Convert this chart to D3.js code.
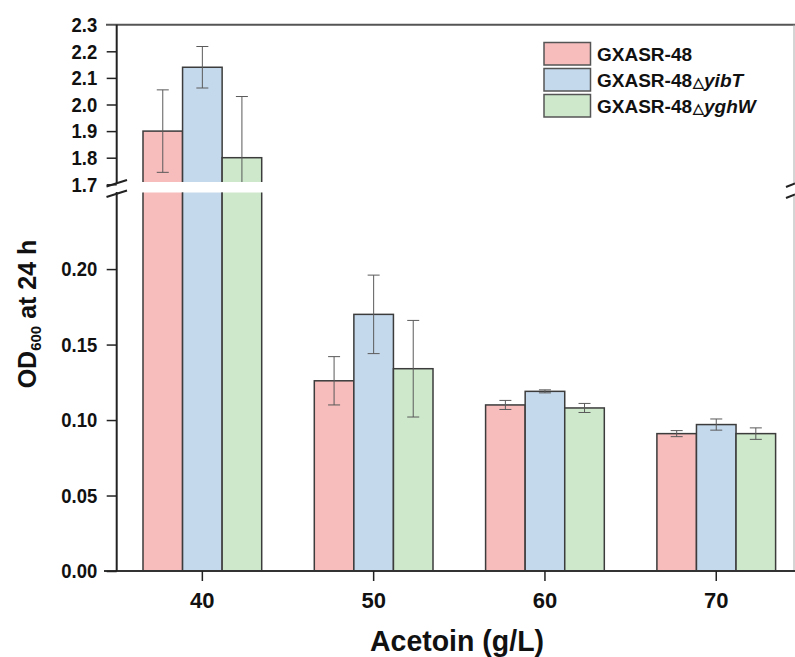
<!DOCTYPE html>
<html><head><meta charset="utf-8">
<script src="https://cdn.jsdelivr.net/npm/d3@7"></script>
<style>
html,body{margin:0;padding:0;background:#fff;}
svg{display:block;font-family:"Liberation Sans",Arial,sans-serif;}
</style></head>
<body>
<svg id="chart" width="795" height="657"></svg>
<script>
// ---- data ----
const categories = ["40", "50", "60", "70"];
const seriesNames = ["GXASR-48", "GXASR-48\u25B3yibT", "GXASR-48\u25B3yghW"];
const seriesGenes = ["", "yibT", "yghW"];
const valuesWT = [1.90, 0.126, 0.110, 0.091];
const valuesYibT = [2.14, 0.170, 0.119, 0.097];
const valuesYghW = [1.80, 0.134, 0.108, 0.091];
const errWT = [0.155, 0.016, 0.003, 0.002];
const errYibT = [0.078, 0.026, 0.001, 0.0037];
const errYghW = [0.23, 0.032, 0.003, 0.0038];
const upperTicks = [1.7, 1.8, 1.9, 2.0, 2.1, 2.2, 2.3];
const lowerTicks = [0.00, 0.05, 0.10, 0.15, 0.20];
const colors = ["#f7bcbc", "#c5d9ec", "#cde8cb"];

const series = [
  {name: seriesNames[0], gene: seriesGenes[0], values: valuesWT, err: errWT, color: colors[0]},
  {name: seriesNames[1], gene: seriesGenes[1], values: valuesYibT, err: errYibT, color: colors[1]},
  {name: seriesNames[2], gene: seriesGenes[2], values: valuesYghW, err: errYghW, color: colors[2]}
];

// ---- layout ----
const axisX = 116.7, rightX = 794, baseY = 571, topY = 24.7;
const upperBottom = 184.3, lowerTop = 193.6;
const gapTop = 182, gapBottom = 192.5;

const svg = d3.select("#chart");

const x = d3.scaleBand().domain(categories).range([axisX, axisX + 4 * 171.3])
  .paddingInner(0.307).paddingOuter(0.1535);
const xs = d3.scaleBand().domain(d3.range(series.length)).range([0, x.bandwidth()]);
const yU = d3.scaleLinear().domain([1.7, 2.3]).range([upperBottom, topY]);
const yL = d3.scaleLinear().domain([0, 0.25]).range([baseY, lowerTop]);

const defs = svg.append("defs");
defs.append("clipPath").attr("id", "clipU").append("rect")
  .attr("x", 0).attr("y", 0).attr("width", 795).attr("height", gapTop);
defs.append("clipPath").attr("id", "clipL").append("rect")
  .attr("x", 0).attr("y", gapBottom).attr("width", 795).attr("height", baseY - gapBottom + 20);

const gU = svg.append("g").attr("clip-path", "url(#clipU)");
const gL = svg.append("g").attr("clip-path", "url(#clipL)");

const rows = [];
series.forEach((s, si) => {
  categories.forEach((c, ci) => {
    rows.push({si, c, v: s.values[ci], e: s.err[ci], color: s.color});
  });
});

// bars
rows.forEach(d => {
  const bx = x(d.c) + xs(d.si), bw = xs.bandwidth();
  if (d.v > 0.25) {
    gU.append("rect").attr("x", bx).attr("y", yU(d.v)).attr("width", bw)
      .attr("height", upperBottom + 30 - yU(d.v))
      .attr("fill", d.color).attr("stroke", "#3c3c3c").attr("stroke-width", 1.5);
    gL.append("rect").attr("x", bx).attr("y", lowerTop - 30).attr("width", bw)
      .attr("height", yL(0) - lowerTop + 30)
      .attr("fill", d.color).attr("stroke", "#3c3c3c").attr("stroke-width", 1.5);
  } else {
    gL.append("rect").attr("x", bx).attr("y", yL(d.v)).attr("width", bw)
      .attr("height", yL(0) - yL(d.v))
      .attr("fill", d.color).attr("stroke", "#3c3c3c").attr("stroke-width", 1.5);
  }
});

// error bars
rows.forEach(d => {
  const cx = x(d.c) + xs(d.si) + xs.bandwidth() / 2;
  const g = d.v > 0.25 ? gU : gL;
  const sc = d.v > 0.25 ? yU : yL;
  const y1 = sc(d.v + d.e), y0 = sc(d.v - d.e);
  g.append("line").attr("x1", cx).attr("x2", cx).attr("y1", y1).attr("y2", y0)
    .attr("stroke", "#5a5a5a").attr("stroke-width", 1);
  [y1, y0].forEach(yy => g.append("line").attr("x1", cx - 6).attr("x2", cx + 6)
    .attr("y1", yy).attr("y2", yy).attr("stroke", "#5a5a5a").attr("stroke-width", 1));
});

// frame lines
svg.append("line").attr("x1", 106).attr("x2", rightX + 1).attr("y1", topY).attr("y2", topY)
  .attr("stroke", "#555").attr("stroke-width", 2);
svg.append("line").attr("x1", rightX).attr("x2", rightX).attr("y1", topY).attr("y2", 183)
  .attr("stroke", "#aaa").attr("stroke-width", 1);
svg.append("line").attr("x1", rightX).attr("x2", rightX).attr("y1", 196).attr("y2", baseY)
  .attr("stroke", "#aaa").attr("stroke-width", 1);
svg.append("line").attr("x1", 104).attr("x2", 795).attr("y1", baseY).attr("y2", baseY)
  .attr("stroke", "#333").attr("stroke-width", 2);
// left axis (broken)
svg.append("line").attr("x1", axisX).attr("x2", axisX).attr("y1", topY).attr("y2", 183)
  .attr("stroke", "#222").attr("stroke-width", 2);
svg.append("line").attr("x1", axisX).attr("x2", axisX).attr("y1", 192).attr("y2", baseY)
  .attr("stroke", "#222").attr("stroke-width", 2);
// break marks
[[106.5, 186.5, 127, 180], [106.5, 197, 127, 190.5]].forEach(p =>
  svg.append("line").attr("x1", p[0]).attr("y1", p[1]).attr("x2", p[2]).attr("y2", p[3])
    .attr("stroke", "#222").attr("stroke-width", 2));
[[786, 187, 795, 183.5], [786, 198, 795, 194.5]].forEach(p =>
  svg.append("line").attr("x1", p[0]).attr("y1", p[1]).attr("x2", p[2]).attr("y2", p[3])
    .attr("stroke", "#222").attr("stroke-width", 2));

// axes ticks
const sx = 0.88;
function styleAxis(g) {
  g.select(".domain").remove();
  g.selectAll(".tick line").attr("stroke", "#222").attr("stroke-width", 1.5);
  g.selectAll(".tick text").attr("fill", "#111").attr("font-weight", "bold")
    .attr("font-family", "'Liberation Sans', Arial, sans-serif");
}
function squeezeY(g) {
  g.selectAll(".tick text").attr("font-size", 21)
    .attr("x", -19.5 / sx).attr("transform", `scale(${sx},1)`);
}
const axU = svg.append("g").attr("transform", `translate(${axisX},0)`)
  .call(d3.axisLeft(yU).tickValues(upperTicks).tickSize(10).tickPadding(9).tickFormat(d3.format(".1f")));
styleAxis(axU); squeezeY(axU);
axU.selectAll(".tick").filter(d => d === 2.3).select("line").remove();
const axL = svg.append("g").attr("transform", `translate(${axisX},0)`)
  .call(d3.axisLeft(yL).tickValues(lowerTicks).tickSize(10).tickPadding(9).tickFormat(d3.format(".2f")));
styleAxis(axL); squeezeY(axL);
const axB = svg.append("g").attr("transform", `translate(0,${baseY})`)
  .call(d3.axisBottom(x).tickSize(10).tickPadding(11));
styleAxis(axB);
axB.selectAll(".tick text").attr("font-size", 22);

// axis titles
svg.append("text").attr("transform", "translate(457,651) scale(0.95,1)").attr("text-anchor", "middle")
  .attr("font-size", 30).attr("font-weight", "bold").attr("fill", "#111").text("Acetoin (g/L)");
const yt = svg.append("text").attr("transform", "translate(36,314) rotate(-90)")
  .attr("text-anchor", "middle").attr("font-size", 25).attr("font-weight", "bold").attr("fill", "#111");
yt.append("tspan").text("OD");
yt.append("tspan").attr("font-size", 15).attr("dy", 5).text("600");
yt.append("tspan").attr("dy", -5).text(" at 24 h");

// legend
const lg = svg.append("g").attr("transform", "translate(544,42.5)");
series.forEach((s, i) => {
  const row = lg.append("g").attr("transform", `translate(0,${i * 26})`);
  row.append("rect").attr("x", 0).attr("y", 0).attr("width", 46.5).attr("height", 22.5)
    .attr("fill", s.color).attr("stroke", "#555").attr("stroke-width", 1.5);
  const t = row.append("text").attr("x", 53).attr("y", 18).attr("font-size", 19)
    .attr("font-weight", "bold").attr("fill", "#111");
  const base = s.name.split("\u25B3")[0];
  t.append("tspan").text(base);
  if (s.gene) {
    t.append("tspan").attr("font-size", 14).attr("dx", 1).text("\u25B3");
    t.append("tspan").attr("font-style", "italic").text(s.gene);
  }
});
</script>
</body></html>
